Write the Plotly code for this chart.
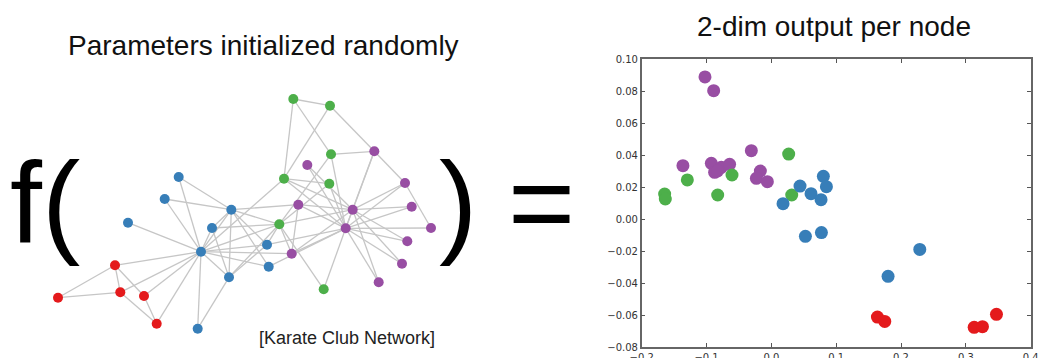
import plotly.graph_objects as go

# ---- Karate club graph: layout positions (drawing units) and community of each node ----
node_x = [201.0, 231.3, 279.3, 229.0, 156.7, 115.0, 120.3, 212.0, 291.7, 323.7,
          144.0, 128.0, 197.7, 267.0, 307.3, 411.7, 58.0, 178.7, 407.3, 268.7,
          402.0, 164.7, 378.7, 374.3, 293.3, 330.0, 431.0, 331.0, 329.3, 405.0,
          298.3, 284.0, 352.7, 345.7]
node_y = [251.7, 209.7, 224.3, 277.3, 323.7, 265.3, 292.3, 228.0, 253.7, 289.3,
          296.0, 222.7, 328.7, 244.7, 165.0, 206.7, 297.7, 177.0, 241.3, 266.7,
          263.7, 199.0, 282.3, 151.3, 99.0, 105.7, 228.0, 154.3, 183.7, 183.0,
          204.7, 178.7, 209.7, 228.3]
node_group = ["blue", "blue", "green", "blue", "red", "red", "red", "blue", "purple", "green",
              "red", "blue", "blue", "blue", "purple", "purple", "red", "blue", "purple", "blue",
              "purple", "blue", "purple", "purple", "green", "green", "purple", "green", "green", "purple",
              "purple", "green", "purple", "purple"]

edges = [(0, 1), (0, 2), (0, 3), (0, 4), (0, 5), (0, 6), (0, 7), (0, 8), (0, 10), (0, 11),
         (0, 12), (0, 13), (0, 17), (0, 19), (0, 21), (0, 31),
         (1, 2), (1, 3), (1, 7), (1, 13), (1, 17), (1, 19), (1, 21), (1, 30),
         (2, 3), (2, 7), (2, 8), (2, 9), (2, 13), (2, 27), (2, 28), (2, 32),
         (3, 7), (3, 12), (3, 13), (4, 6), (4, 10), (5, 6), (5, 10), (5, 16), (6, 16),
         (8, 30), (8, 32), (8, 33), (9, 33), (13, 33), (14, 32), (14, 33), (15, 32), (15, 33),
         (18, 32), (18, 33), (19, 33), (20, 32), (20, 33), (22, 32), (22, 33),
         (23, 25), (23, 27), (23, 29), (23, 32), (23, 33), (24, 25), (24, 27), (24, 31),
         (25, 31), (26, 29), (26, 33), (27, 33), (28, 31), (28, 33), (29, 32), (29, 33),
         (30, 32), (30, 33), (31, 32), (31, 33), (32, 33)]

# ---- 2-dim output per node, split by community ----
purple_x = [-0.1024, -0.0890, -0.1364, -0.0926, -0.0875, -0.0772, -0.0830, -0.0644,
            -0.0309, -0.0170, -0.0231, -0.0062]
purple_y = [0.0888, 0.0802, 0.0333, 0.0348, 0.0292, 0.0323, 0.0300, 0.0342,
            0.0427, 0.0300, 0.0254, 0.0233]
green_x = [0.0267, -0.1646, -0.1636, -0.1296, -0.0828, -0.0607, 0.0314]
green_y = [0.0406, 0.0156, 0.0125, 0.0244, 0.0150, 0.0275, 0.0150]
blue_x = [0.0180, 0.0442, 0.0612, 0.0802, 0.0849, 0.0766, 0.0525, 0.0772, 0.2289, 0.1800]
blue_y = [0.0096, 0.0206, 0.0158, 0.0267, 0.0202, 0.0121, -0.0108, -0.0085, -0.0190, -0.0358]
red_x = [0.1636, 0.1749, 0.3128, 0.3256, 0.3472]
red_y = [-0.0613, -0.0640, -0.0677, -0.0673, -0.0596]

x_ticks = [-0.2, -0.1, 0.0, 0.1, 0.2, 0.3, 0.4]
y_ticks = [-0.08, -0.06, -0.04, -0.02, 0.00, 0.02, 0.04, 0.06, 0.08, 0.10]

palette = {"red": "#e41a1c", "blue": "#377eb8", "green": "#4daf4a", "purple": "#984ea3"}

W, H = 1039, 358
fig = go.Figure()

# graph edges
ex, ey = [], []
for a, b in edges:
    ex += [node_x[a], node_x[b], None]
    ey += [node_y[a], node_y[b], None]
fig.add_trace(go.Scatter(x=ex, y=ey, mode="lines", line=dict(color="#c6c6c6", width=1.3),
                         hoverinfo="skip", showlegend=False, xaxis="x", yaxis="y"))

# graph nodes
for grp in ["blue", "red", "green", "purple"]:
    idx = [i for i, g in enumerate(node_group) if g == grp]
    fig.add_trace(go.Scatter(x=[node_x[i] for i in idx], y=[node_y[i] for i in idx],
                             mode="markers", marker=dict(size=10, color=palette[grp], line=dict(width=0)),
                             showlegend=False, xaxis="x", yaxis="y"))

# embedding scatter
for xs, ys, grp in [(purple_x, purple_y, "purple"), (green_x, green_y, "green"),
                    (blue_x, blue_y, "blue"), (red_x, red_y, "red")]:
    fig.add_trace(go.Scatter(x=xs, y=ys, mode="markers",
                             marker=dict(size=13, color=palette[grp], line=dict(width=0)),
                             showlegend=False, xaxis="x2", yaxis="y2"))

sans = "Liberation Sans, Arial, sans-serif"
ann = []
big = dict(family=sans, size=115, color="#000000")
ann.append(dict(x=8, y=202, text="f(", xanchor="left", yanchor="middle", font=big))
ann.append(dict(x=458, y=202, text=")", xanchor="center", yanchor="middle", font=big))
ann.append(dict(x=541, y=202, text="=", xanchor="center", yanchor="middle", font=big))
ann.append(dict(x=263, y=45, text="Parameters initialized randomly", xanchor="center", yanchor="middle",
                font=dict(family=sans, size=28, color="#111111")))
ann.append(dict(x=834, y=26, text="2-dim output per node", xanchor="center", yanchor="middle",
                font=dict(family=sans, size=28, color="#111111")))
ann.append(dict(x=347, y=338, text="[Karate Club Network]", xanchor="center", yanchor="middle",
                font=dict(family=sans, size=18, color="#222222")))
for a in ann:
    a.update(xref="x", yref="y", showarrow=False)

left, right, top, bottom = 641.7, 1030.7, 59.0, 347.0
tickfont = dict(family="DejaVu Sans, sans-serif", size=10, color="#333333")
axis_style = dict(ticks="inside", ticklen=4, tickcolor="#555555", showline=True,
                  linecolor="#666666", linewidth=1.5, mirror="ticks", showgrid=False,
                  zeroline=False, tickfont=tickfont, automargin=False)
fig.update_layout(
    template="none",
    width=W, height=H, autosize=False,
    margin=dict(l=0, r=0, t=0, b=0, pad=0),
    paper_bgcolor="white", plot_bgcolor="rgba(0,0,0,0)",
    annotations=ann,
    xaxis=dict(domain=[0, 1], range=[0, W], visible=False, fixedrange=True, automargin=False),
    yaxis=dict(domain=[0, 1], range=[H, 0], visible=False, fixedrange=True, automargin=False),
    xaxis2=dict(domain=[left / W, right / W], anchor="y2", range=[-0.2, 0.4],
                tickvals=x_ticks, tickformat=".1f", **axis_style),
    yaxis2=dict(domain=[1 - bottom / H, 1 - top / H], anchor="x2", range=[-0.08, 0.10],
                tickvals=y_ticks, tickformat=".2f", **axis_style),
)

fig.write_html("out.html")
